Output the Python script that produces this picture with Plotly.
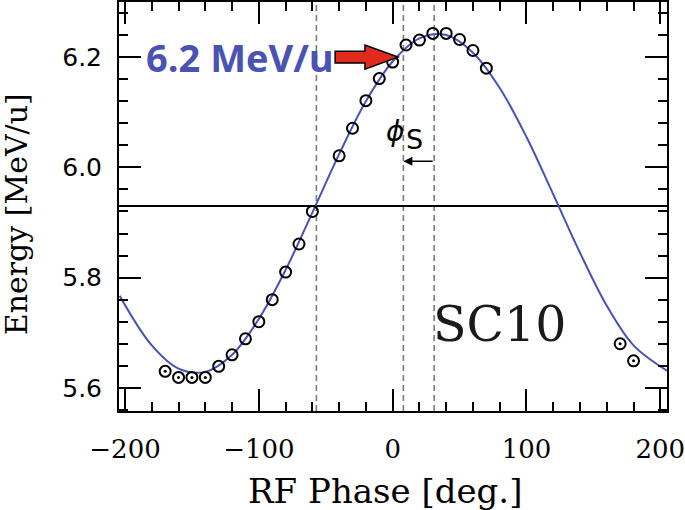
import plotly.graph_objects as go

# ---- data ----
curve_phase = [-204, -180, -160, -140, -120, -100, -80, -60, -40, -20, 0, 20, 40,
               60, 80, 100, 120, 140, 160, 180, 205]
curve_energy = [5.767, 5.677, 5.635, 5.629, 5.660, 5.725, 5.814, 5.918, 6.024, 6.120,
                6.192, 6.234, 6.240, 6.208, 6.144, 6.055, 5.951, 5.845, 5.749, 5.677, 5.631]

meas_phase = [-170, -160, -150, -140, -130, -120, -110, -100, -90, -80, -70, -60,
              -40, -30, -20, -10, 0, 10, 20, 30, 40, 50, 60, 70, 170, 180]
meas_energy = [5.630, 5.619, 5.619, 5.619, 5.639, 5.660, 5.689, 5.720, 5.760, 5.810,
               5.861, 5.920, 6.021, 6.071, 6.121, 6.161, 6.191, 6.222, 6.231, 6.243,
               6.243, 6.232, 6.212, 6.180, 5.680, 5.649]

dotted_phase = [-170, -160, -150, -140, 170, 180]
dotted_energy = [5.630, 5.619, 5.619, 5.619, 5.680, 5.649]

ref_energy = 5.93
dashed_phases = [-57, 8, 31]
phis_from, phis_to, phis_energy = 31, 8, 6.011

x_ticks = [-200, -100, 0, 100, 200]
y_ticks = [5.6, 5.8, 6.0, 6.2]

BLUE = "#4a52b2"

fig = go.Figure()

fig.add_trace(go.Scatter(x=curve_phase, y=curve_energy, mode="lines",
                         line=dict(color=BLUE, width=2, shape="spline", smoothing=1.0),
                         showlegend=False, hoverinfo="skip"))
fig.add_trace(go.Scatter(x=meas_phase, y=meas_energy, mode="markers",
                         marker=dict(symbol="circle-open", size=11,
                                     line=dict(color="black", width=2), color="black"),
                         showlegend=False))
fig.add_trace(go.Scatter(x=dotted_phase, y=dotted_energy, mode="markers",
                         marker=dict(symbol="circle", size=3, color="black"),
                         showlegend=False, hoverinfo="skip"))

shapes = []
for p in dashed_phases:
    shapes.append(dict(type="line", xref="x", yref="paper", x0=p, x1=p, y0=0, y1=1,
                       line=dict(color="#7a7a7a", width=1.6, dash="6px,4px"), layer="below"))
shapes.append(dict(type="line", xref="paper", yref="y", x0=0, x1=1, y0=ref_energy, y1=ref_energy,
                   line=dict(color="black", width=2), layer="below"))

# red block arrow pointing at 6.2 MeV/u
tip_x, tip_y = 4, 6.2
tail_x, head_x = -43, -20.7
sh, hh = 0.0105, 0.022
path = (f"M {tail_x},{tip_y - sh} L {head_x},{tip_y - sh} L {head_x},{tip_y - hh} "
        f"L {tip_x},{tip_y} L {head_x},{tip_y + hh} L {head_x},{tip_y + sh} "
        f"L {tail_x},{tip_y + sh} Z")
shapes.append(dict(type="path", xref="x", yref="y", path=path,
                   fillcolor="#e02a1c", line=dict(color="black", width=1.5), layer="above"))

annotations = [
    dict(x=-114.2, y=6.2, xref="x", yref="y", text="<b>6.2 MeV/u</b>", showarrow=False,
         font=dict(family="Open Sans", size=38, color=BLUE), xanchor="center", yanchor="middle"),
    dict(x=80.1, y=5.7155, xref="x", yref="y", text="SC10", showarrow=False,
         font=dict(family="DejaVu Serif", size=49, color="#1a1a1a"), xanchor="center", yanchor="middle"),
    dict(x=1.8, y=6.0655, xref="x", yref="y", text="<i>ϕ</i>", showarrow=False,
         font=dict(family="DejaVu Sans", size=28, color="black"), xanchor="center", yanchor="middle"),
    dict(x=16.3, y=6.050, xref="x", yref="y", text="S", showarrow=False,
         font=dict(family="DejaVu Sans", size=27, color="black"), xanchor="center", yanchor="middle"),
    dict(x=phis_to, y=phis_energy, ax=phis_from, ay=phis_energy, xref="x", yref="y",
         axref="x", ayref="y", text="", showarrow=True, arrowhead=2, arrowsize=1.2,
         arrowwidth=1.5, arrowcolor="black", standoff=0),
    dict(x=0.486, y=0, xref="paper", yref="paper", text="RF Phase [deg.]", showarrow=False,
         font=dict(family="DejaVu Serif", size=34, color="black"), xanchor="center",
         yanchor="middle", yshift=-80),
    dict(x=0, y=0.481, xref="paper", yref="paper", text="Energy [MeV/u]", showarrow=False,
         textangle=-90, font=dict(family="DejaVu Serif", size=30, color="black"),
         xanchor="center", yanchor="middle", xshift=-103),
]

fig.update_layout(
    width=685, height=510,
    margin=dict(l=119, r=18, t=2, b=99, autoexpand=False),
    paper_bgcolor="white", plot_bgcolor="white",
    shapes=shapes, annotations=annotations,
    xaxis=dict(range=[-204.5, 205], tickvals=x_ticks, ticks="inside", ticklen=22, tickwidth=2,
               tickcolor="black", showline=True, linewidth=2, linecolor="black", mirror="allticks",
               showgrid=False, zeroline=False, ticklabelstandoff=14, automargin=False,
               ticklabeloverflow="allow",
               tickfont=dict(family="DejaVu Serif", size=26, color="black"),
               minor=dict(dtick=20, tick0=0, ticks="inside", ticklen=9, tickwidth=2,
                          tickcolor="black", showgrid=False)),
    yaxis=dict(range=[5.558, 6.300], tickvals=y_ticks, tickformat=".1f", ticks="inside",
               ticklen=22, tickwidth=2, tickcolor="black", showline=True, linewidth=2,
               linecolor="black", mirror="allticks", showgrid=False, zeroline=False,
               ticklabelstandoff=10, automargin=False, ticklabeloverflow="allow",
               tickfont=dict(family="DejaVu Sans", size=25, color="black"),
               minor=dict(dtick=0.04, tick0=5.6, ticks="inside", ticklen=9, tickwidth=2,
                          tickcolor="black", showgrid=False)),
)

fig.write_html("out.html", config={"displayModeBar": False},
               post_script="document.body.style.margin='0';")
